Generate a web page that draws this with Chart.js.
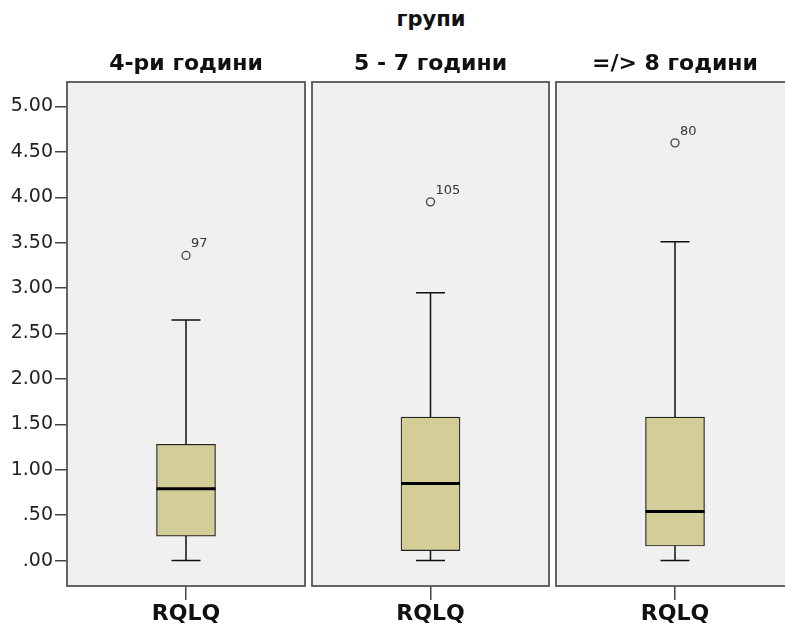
<!DOCTYPE html>
<html>
<head>
<meta charset="utf-8">
<script src="https://cdn.jsdelivr.net/npm/chart.js@4"></script>
<style>
  html, body { margin: 0; padding: 0; background: #fff; }
  #wrap { position: relative; width: 785px; height: 630px; overflow: hidden; }
  #wrap canvas { position: absolute; top: 40px; }
  #groupTitle {
    position: absolute; left: 331px; width: 200px; top: 7px; line-height: 26px;
    text-align: center; font: bold 21px "DejaVu Sans", sans-serif; color: #111;
  }
</style>
</head>
<body>
<div id="wrap">
  <div id="groupTitle">групи</div>
  <canvas id="c0" width="307" height="590" style="left:0px"></canvas>
  <canvas id="c1" width="241" height="590" style="left:310px"></canvas>
  <canvas id="c2" width="242" height="590" style="left:554px"></canvas>
</div>
<script>
// === DADOS ===
const groups = ["4-ри години", "5 - 7 години", "=/> 8 години"];
const category = ["RQLQ"];
const whiskerLow = [0.00, 0.00, 0.00];
const q1 = [0.27, 0.11, 0.16];
const median = [0.79, 0.85, 0.54];
const q3 = [1.28, 1.58, 1.58];
const whiskerHigh = [2.65, 2.95, 3.51];
const outliers = [3.36, 3.95, 4.60];
const outlierIds = ["97", "105", "80"];
const yTicks = [0, 0.5, 1, 1.5, 2, 2.5, 3, 3.5, 4, 4.5, 5];

const FONT = "'DejaVu Sans', sans-serif";

// === PLUGIN: painel, título, bigodes, mediana, rótulos ===
const boxPlugin = {
  id: "boxPlugin",
  beforeDraw(chart) {
    const i = chart.options.plugins.boxPlugin.idx;
    const a = chart.chartArea, ctx = chart.ctx;
    ctx.save();
    ctx.fillStyle = "#f0f0f0";
    ctx.fillRect(a.left, a.top, a.right - a.left, a.bottom - a.top);
    // título do painel centrado na área
    ctx.fillStyle = "#111";
    ctx.font = "bold 22px " + FONT;
    ctx.textAlign = "center";
    ctx.textBaseline = "middle";
    ctx.fillText(groups[i], (a.left + a.right) / 2, 24.5);
    ctx.restore();
  },
  beforeDatasetsDraw(chart) {
    const i = chart.options.plugins.boxPlugin.idx;
    const ctx = chart.ctx, x = chart.scales.x, y = chart.scales.y;
    const cx = x.getPixelForValue(0);
    ctx.save();
    ctx.strokeStyle = "#111";
    ctx.lineWidth = 1.5;
    ctx.beginPath();
    ctx.moveTo(cx, y.getPixelForValue(whiskerHigh[i]));
    ctx.lineTo(cx, y.getPixelForValue(q3[i]));
    ctx.moveTo(cx, y.getPixelForValue(q1[i]));
    ctx.lineTo(cx, y.getPixelForValue(whiskerLow[i]));
    [whiskerHigh[i], whiskerLow[i]].forEach(v => {
      const py = y.getPixelForValue(v);
      ctx.moveTo(cx - 14.5, py);
      ctx.lineTo(cx + 14.5, py);
    });
    ctx.stroke();
    ctx.restore();
  },
  afterDatasetsDraw(chart) {
    const i = chart.options.plugins.boxPlugin.idx;
    const ctx = chart.ctx, y = chart.scales.y;
    const bar = chart.getDatasetMeta(0).data[0];
    const my = y.getPixelForValue(median[i]);
    ctx.save();
    ctx.strokeStyle = "#000";
    ctx.lineWidth = 3;
    ctx.beginPath();
    ctx.moveTo(bar.x - bar.width / 2, my);
    ctx.lineTo(bar.x + bar.width / 2, my);
    ctx.stroke();
    const pt = chart.getDatasetMeta(1).data[0];
    ctx.fillStyle = "#333";
    ctx.font = "13px " + FONT;
    ctx.textAlign = "left";
    ctx.textBaseline = "alphabetic";
    ctx.fillText(outlierIds[i], pt.x + 5, pt.y - 8);
    ctx.restore();
  },
  afterDraw(chart) {
    const a = chart.chartArea, ctx = chart.ctx;
    ctx.save();
    ctx.strokeStyle = "#555";
    ctx.lineWidth = 1.8;
    ctx.strokeRect(a.left, a.top, a.right - a.left, a.bottom - a.top);
    ctx.restore();
  }
};

// === GRÁFICOS ===
groups.forEach((g, i) => {
  new Chart(document.getElementById("c" + i), {
    type: "bar",
    data: {
      labels: category,
      datasets: [{
        data: [[q1[i], q3[i]]],
        backgroundColor: "#d3ce97",
        borderColor: "#222",
        borderWidth: 1.2,
        borderSkipped: false,
        barThickness: 59
      }, {
        type: "line",
        data: [outliers[i]],
        showLine: false,
        pointRadius: 4,
        pointBorderWidth: 1.3,
        pointBorderColor: "#444",
        pointBackgroundColor: "rgba(0,0,0,0)"
      }]
    },
    options: {
      responsive: false,
      animation: false,
      layout: { autoPadding: false, padding: { left: i === 0 ? 0 : 2, right: 2, top: 42, bottom: 0 } },
      plugins: {
        legend: { display: false },
        tooltip: { enabled: false },
        title: { display: false },
        boxPlugin: { idx: i }
      },
      scales: {
        x: {
          grid: { offset: false, drawOnChartArea: false, tickLength: 14, color: "#444", lineWidth: 1.5 },
          border: { display: false },
          ticks: { color: "#111", padding: 1, font: { family: FONT, size: 22, weight: "bold" } },
          afterFit: s => { s.height = 44; }
        },
        y: {
          display: i === 0,
          min: -0.28,
          max: 5.27,
          afterBuildTicks: s => { s.ticks = yTicks.map(v => ({ value: v })); },
          afterFit: s => { s.width = i === 0 ? 67 : 0; },
          grid: { drawOnChartArea: false, tickLength: 12, color: "#444", lineWidth: 1.5 },
          border: { display: false },
          ticks: {
            color: "#222",
            padding: 2,
            font: { family: FONT, size: 19 },
            callback: v => v.toFixed(2).replace(/^0/, "")
          }
        }
      }
    },
    plugins: [boxPlugin]
  });
});
</script>
</body>
</html>
